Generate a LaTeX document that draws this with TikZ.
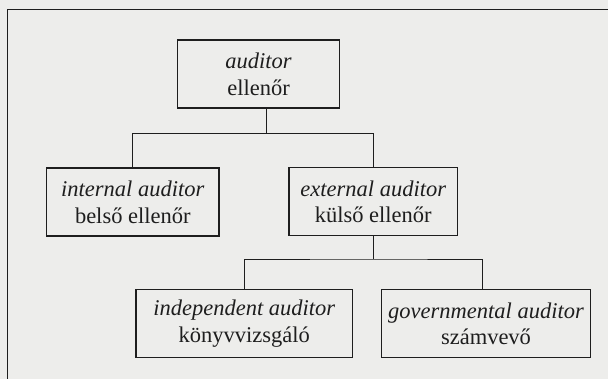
\documentclass[tikz,border=0pt]{standalone}
\usepackage{fontspec}
\setmainfont{Liberation Serif}
\usetikzlibrary{positioning}
\definecolor{scanbg}{RGB}{237,237,235}
\definecolor{ink}{RGB}{30,30,30}

\begin{document}
\begin{tikzpicture}[x=1pt,y=-1pt,
	box/.style={draw=ink,line width=1.5pt,minimum height=68pt,align=center,text=ink,
		font=\fontsize{22.5}{26.5}\selectfont},
	link/.style={draw=ink,line width=0.8pt}]
							\fill[scanbg] (0,0) rectangle (608,379);
							\useasboundingbox (0,0) rectangle (608,379);
							\draw[ink,line width=1.4pt] (610,9.5) -| (7.5,381);
							\foreach \nm/\cx/\cy/\w/\en/\hu in {auditor/258.5/74.2/161.6/auditor/ellenőr,
									internal/132.8/202.2/172.3/internal auditor/belső ellenőr,
									external/373.3/201.6/168.7/external auditor/külső ellenőr,
									independent/244.3/323.7/216.7/independent auditor/könyvvizsgáló,
									governmental/486/323.7/209.4/governmental auditor/számvevő}
           						\node[box,minimum width=\w pt] (\nm) at (\cx,\cy) {\textit{\en}\\\hu};

           					\coordinate (split1) at (266.7,133.3);
           					\coordinate (split2) at (374,259);
           					\draw[link] ([xshift=8.2pt]auditor.south) -- (split1);
           					\draw[link] (internal.north) |- (split1) -| (external.north);
           					\draw[link] (external.south) -- (external.south |- split2);
           					\draw[link] (independent.north) |- (split2) -| ([xshift=-3.7pt]governmental.north);
           				\end{tikzpicture}
\end{document}
